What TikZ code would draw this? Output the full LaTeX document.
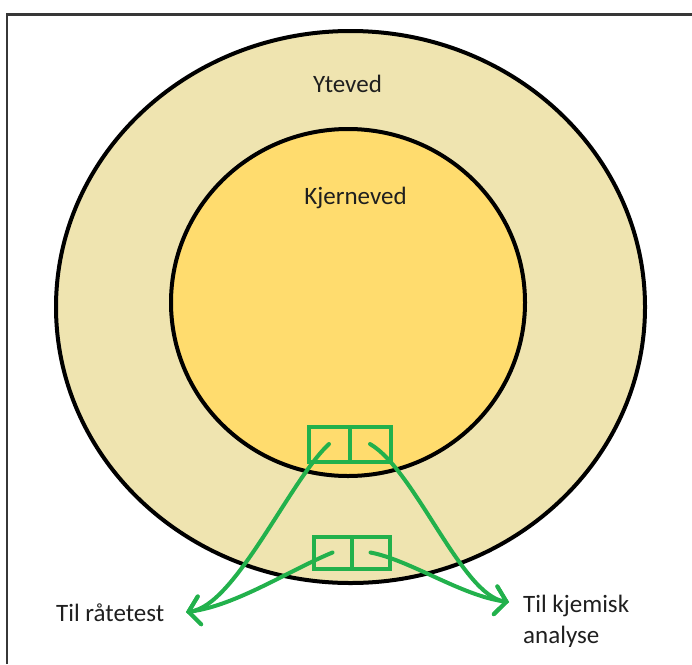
\documentclass[tikz,border=0pt]{standalone}
\usepackage{fontspec}
\setmainfont{Carlito}
\usetikzlibrary{arrows.meta}
\definecolor{yteved}{RGB}{239,228,176}
\definecolor{kjerne}{RGB}{255,220,110}
\definecolor{prove}{RGB}{34,177,76}
\definecolor{ramme}{RGB}{55,55,55}
\begin{document}
\begin{tikzpicture}[x=1pt,y=-1pt,
	tekst/.style={inner sep=0pt,font=\fontsize{25}{31}\selectfont,text=black!88},
	halv/.style={draw=prove,line width=4pt,inner sep=0pt,outer sep=0pt},
	pil/.style={prove,line width=4pt,line cap=round,-{Straight Barb[length=11pt,width=28pt,line cap=round]}}]
	\useasboundingbox (0,0) rectangle (692,664);
	\draw[ramme,line width=2.5pt] (7,664)--(7,14.5)--(692,14.5);
	\draw[fill=yteved,line width=4pt] (350.5,307) ellipse [x radius=294.5,y radius=276];
	\draw[fill=kjerne,line width=4pt] (348,302.5) ellipse [x radius=177,y radius=173.5];
	\node[tekst,anchor=base] (ytre) at (347.5,92) {Yteved};
	\node[tekst,anchor=base] (kjerneved) at (355.5,204) {Kjerneved};
	% provebiter
	\node[halv,minimum width=41pt,minimum height=35pt] (ovreV) at (329,444) {};
	\node[halv,minimum width=41pt,minimum height=35pt,anchor=west] (ovreH) at (ovreV.east) {};
	\node[halv,minimum width=38pt,minimum height=32pt] (nedreV) at (332.5,552.5) {};
	\node[halv,minimum width=38pt,minimum height=32pt,anchor=west] (nedreH) at (nedreV.east) {};
	\node[tekst,anchor=base west] (raatetest) at (56,621) {Til råtetest};
	\node[tekst,anchor=base west,align=left] (kjemisk) at (523,643) {Til kjemisk\\analyse};
	\coordinate (spissV) at (186,612);
	\coordinate (spissH) at (509,602);
	\draw[pil] (ovreV.center) .. controls (290,480) and (235,606) .. (spissV);
	\draw[pil] (nedreV.center) .. controls (290,570) and (235,606) .. (spissV);
	\draw[pil] (ovreH.center) .. controls (415,470) and (462,596) .. (spissH);
	\draw[pil] (nedreH.center) .. controls (410,560) and (462,596) .. (spissH);
\end{tikzpicture}
\end{document}
